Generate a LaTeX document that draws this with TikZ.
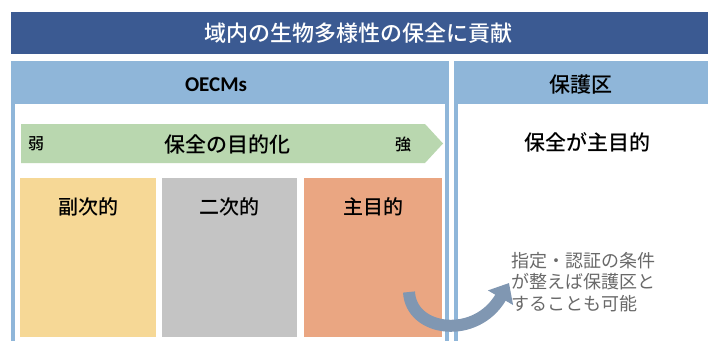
\documentclass[tikz,border=0pt]{standalone}
\usepackage{fontspec}
\usetikzlibrary{arrows.meta}
\newfontfamily\jp{Noto Sans CJK JP}
\newfontfamily\jpm{Noto Sans CJK JP Medium}
\newfontfamily\carlito{Carlito}
\definecolor{titlebar}{RGB}{59,90,146}
\definecolor{hdrblue}{RGB}{143,182,217}
\definecolor{arrgreen}{RGB}{185,215,175}
\definecolor{boxyellow}{RGB}{246,216,150}
\definecolor{boxgray}{RGB}{196,196,196}
\definecolor{boxsalmon}{RGB}{234,166,130}
\definecolor{curvearrow}{RGB}{128,151,178}
\definecolor{notegray}{RGB}{105,105,105}
\tikzset{
  panelframe/.style={draw=hdrblue, line width=3.5pt, fill=white},
  boxlabel/.style={font=\jpm\fontsize{20}{22}\selectfont, inner sep=0pt},
  jptext/.style={font=\jpm\fontsize{20}{22}\selectfont, inner sep=0pt},
}
\begin{document}
\begin{tikzpicture}[x=1pt, y=-1pt]
\useasboundingbox (0,0) rectangle (708,340);
% title bar
\node[fill=titlebar, minimum width=700pt, minimum height=42pt, inner sep=0pt, anchor=north west] (title) at (11,12) {};
\node[font=\jpm\fontsize{22}{24}\selectfont, text=white, inner sep=0pt] (titletxt) at (358,33) {域内の生物多様性の保全に貢献};
% left panel
\draw[panelframe] (13,63) rectangle (447,350);
\fill[hdrblue] (11,61) rectangle (449,104);
\node[font=\carlito\bfseries\fontsize{21}{23}\selectfont, inner sep=0pt] (oecm) at (216,85) {OECMs};
% right panel
\draw[panelframe] (456,63) rectangle (720,350);
\fill[hdrblue] (454,61) rectangle (720,104);
\node[jptext, font=\jpm\fontsize{21}{23}\selectfont] (pa) at (581,85) {保護区};
\node[jptext, font=\jpm\fontsize{21}{23}\selectfont] (pamain) at (587,142) {保全が主目的};
% green arrow
\fill[arrgreen] (21,124) -- (425,124) -- (443,143.5) -- (425,163) -- (21,163) -- cycle;
\node[font=\jpm\fontsize{16}{18}\selectfont, inner sep=0pt] (weak) at (36,144) {弱};
\node[font=\jpm\fontsize{16}{18}\selectfont, inner sep=0pt] (strong) at (403,144) {強};
\node[jptext, font=\jpm\fontsize{21}{23}\selectfont] (purpose) at (227,144) {保全の目的化};
% three boxes
\fill[boxyellow] (20,178) rectangle (156,337);
\fill[boxgray] (162,178) rectangle (297,337);
\fill[boxsalmon] (304,178) rectangle (442,337);
\node[boxlabel] (sub) at (88,207) {副次的};
\node[boxlabel] (second) at (229,207) {二次的};
\node[boxlabel] (main) at (373,207) {主目的};
% note
\node[font=\jp\fontsize{18}{21.5}\selectfont, text=notegray, align=left, anchor=north west, inner sep=0pt] (note) at (511,252) {指定・認証の条件\\が整えば保護区と\\することも可能};
% curved arrow
\coordinate (cs) at (409,292);
\coordinate (ce) at (509,283);
\draw[curvearrow, line width=12pt, -{Triangle[width=28pt,length=17pt]}] (cs) .. controls (411,332) and (476,340) .. (ce);
\end{tikzpicture}
\end{document}
